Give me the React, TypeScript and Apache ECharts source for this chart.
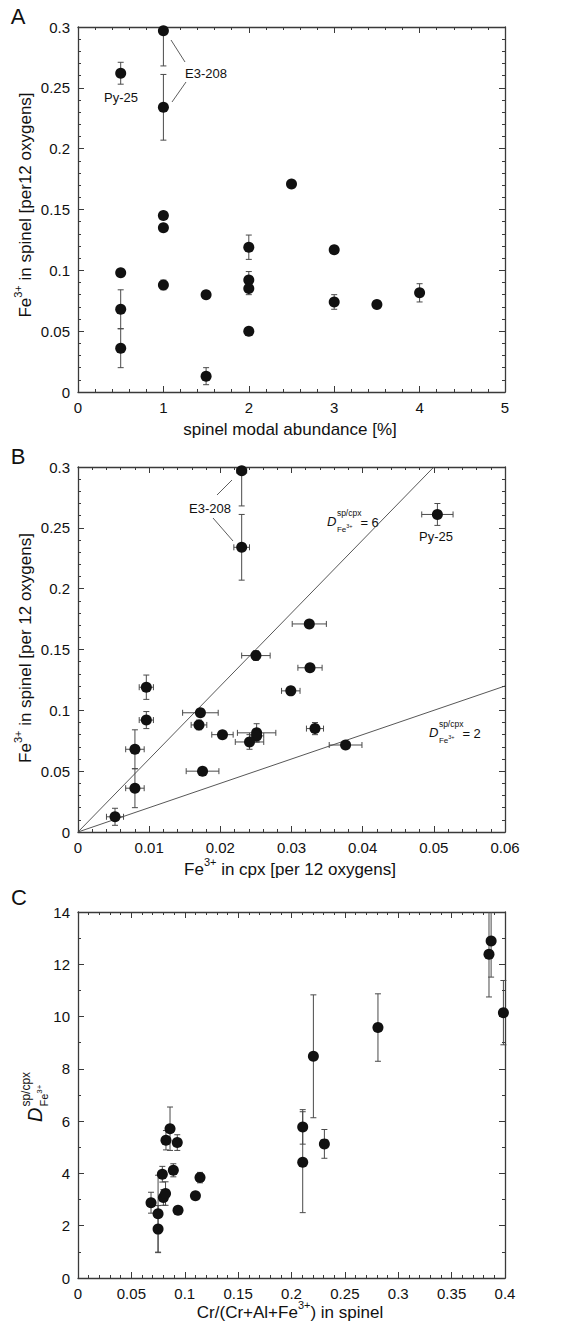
import React, { useEffect, useRef } from 'react';
import * as echarts from 'echarts';

const FONT = '"Liberation Sans", Arial, Helvetica, sans-serif';
const INK = '#111';
const FRAME = '#3a3a3a';
const ERR = '#4a4a4a';

// ---------- Panel A: Fe3+ in spinel vs spinel modal abundance ----------
const aModal = [0.5, 1, 1, 2.5, 1, 1, 1, 0.5, 0.5, 0.5, 1.5, 1.5, 2, 2, 2, 2, 3, 3, 3.5, 4];
const aFe = [0.262, 0.297, 0.234, 0.171, 0.145, 0.135, 0.088, 0.098, 0.068, 0.036, 0.080, 0.013, 0.119, 0.092, 0.085, 0.050, 0.117, 0.074, 0.072, 0.0815];
const aFeErr = [0.009, 0.029, 0.027, 0, 0.003, 0.002, 0.004, 0.002, 0.016, 0.016, 0.002, 0.007, 0.010, 0.007, 0.005, 0.001, 0.001, 0.006, 0.001, 0.0075];
const aXAxis = { min: 0, max: 5, interval: 1, minor: 5 };
const aYAxis = { min: 0, max: 0.3, interval: 0.05, minor: 5 };

// ---------- Panel B: Fe3+ in spinel vs Fe3+ in cpx ----------
const bCpx = [0.0505, 0.023, 0.023, 0.0325, 0.025, 0.0326, 0.0299, 0.0096, 0.0096, 0.0172, 0.017, 0.0203, 0.0251, 0.0251, 0.0241, 0.0333, 0.0376, 0.008, 0.008, 0.0175, 0.0052];
const bCpxErr = [0.0022, 0.0007, 0.0011, 0.0024, 0.002, 0.0017, 0.0013, 0.001, 0.001, 0.0025, 0.0011, 0.0015, 0.0027, 0.001, 0.002, 0.0012, 0.0023, 0.0013, 0.0013, 0.0023, 0.0012];
const bSp = [0.261, 0.297, 0.234, 0.171, 0.145, 0.135, 0.116, 0.119, 0.092, 0.098, 0.088, 0.080, 0.0815, 0.079, 0.074, 0.085, 0.0715, 0.068, 0.036, 0.050, 0.0125];
const bSpErr = [0.009, 0.029, 0.027, 0, 0.004, 0.002, 0.002, 0.010, 0.007, 0.002, 0.004, 0.002, 0.0075, 0.005, 0.006, 0.005, 0.001, 0.016, 0.016, 0.001, 0.007];
const dValues = [6, 2];
const dLineEndX = [0.05, 0.06];
const bXAxis = { min: 0, max: 0.06, interval: 0.01, minor: 5 };
const bYAxis = { min: 0, max: 0.3, interval: 0.05, minor: 5 };

// ---------- Panel C: D(sp/cpx) vs Cr# in spinel ----------
const cCr = [0.387, 0.385, 0.3985, 0.281, 0.2205, 0.2105, 0.2105, 0.2308, 0.0684, 0.075, 0.075, 0.079, 0.080, 0.082, 0.0824, 0.0862, 0.0893, 0.093, 0.0937, 0.110, 0.1143];
const cD = [12.89, 12.38, 10.15, 9.58, 8.48, 5.78, 4.43, 5.13, 2.88, 2.46, 1.87, 3.97, 3.08, 3.23, 5.27, 5.71, 4.12, 5.18, 2.59, 3.15, 3.84];
const cDErr = [1.38, 1.63, 1.23, 1.29, 2.35, 0.66, 1.93, 0.55, 0.4, 1.47, 0.9, 0.3, 0.3, 0.45, 0.37, 0.83, 0.25, 0.3, 0.1, 0.1, 0.2];
const cXAxis = { min: 0, max: 0.4, interval: 0.05, minor: 5 };
const cYAxis = { min: 0, max: 14, interval: 2, minor: 2 };

const GRIDS = [
  { left: 78, top: 27, width: 427, height: 365 },
  { left: 78, top: 467, width: 427, height: 365 },
  { left: 78, top: 912, width: 427, height: 366 },
];

let measureCtx: CanvasRenderingContext2D | null = null;
function tw(text: string, size: number, italic = false): number {
  if (!measureCtx) measureCtx = document.createElement('canvas').getContext('2d');
  if (!measureCtx) return text.length * size * 0.55;
  measureCtx.font = `${italic ? 'italic ' : ''}${size}px ${FONT}`;
  return measureCtx.measureText(text).width;
}

type Piece = { t: string; s: number; dy?: number; it?: boolean; noAdv?: boolean; dx?: number };
function textGroup(pieces: Piece[], cx: number, cy: number, rotation = 0, center = true) {
  let total = 0;
  pieces.forEach((p) => {
    if (!p.noAdv) total += tw(p.t, p.s, p.it) + (p.dx || 0);
  });
  let x = center ? -total / 2 : 0;
  const children = pieces.map((p) => {
    const el = {
      type: 'text',
      x: x + (p.dx || 0),
      y: p.dy || 0,
      style: {
        text: p.t,
        fontSize: p.s,
        fontFamily: FONT,
        fontStyle: p.it ? 'italic' : 'normal',
        fill: INK,
        align: 'left',
        verticalAlign: 'middle',
      },
    };
    if (!p.noAdv) x += tw(p.t, p.s, p.it) + (p.dx || 0);
    return el;
  });
  return { type: 'group', x: cx, y: cy, rotation, children };
}

function dLabel(x: number, y: number, val: number) {
  const dW = tw('D', 13, true);
  const fw = tw('Fe', 8);
  return {
    type: 'group',
    x,
    y,
    children: [
      { type: 'text', x: 0, y: 0, style: { text: 'D', fontSize: 13, fontStyle: 'italic', fontFamily: FONT, fill: INK, verticalAlign: 'middle' } },
      { type: 'text', x: dW + 0.5, y: -8, style: { text: 'sp/cpx', fontSize: 8.5, fontFamily: FONT, fill: INK, verticalAlign: 'middle' } },
      { type: 'text', x: dW + 0.5, y: 8, style: { text: 'Fe', fontSize: 8, fontFamily: FONT, fill: INK, verticalAlign: 'middle' } },
      { type: 'text', x: dW + 0.5 + fw, y: 5, style: { text: '3+', fontSize: 5.5, fontFamily: FONT, fill: INK, verticalAlign: 'middle' } },
      { type: 'text', x: dW + 24, y: 1, style: { text: '= ' + val, fontSize: 13, fontFamily: FONT, fill: INK, verticalAlign: 'middle' } },
    ],
  };
}

function leader(x1: number, y1: number, x2: number, y2: number) {
  return { type: 'line', shape: { x1, y1, x2, y2 }, style: { stroke: '#333', lineWidth: 0.8 } };
}

function fmt(v: number) {
  return String(+v.toFixed(4));
}

function errRender(params: any, api: any) {
  const x = api.value(0);
  const y = api.value(1);
  const ex = api.value(2);
  const ey = api.value(3);
  const cs = params.coordSys;
  const top = cs.y;
  const bottom = cs.y + cs.height;
  const left = cs.x;
  const right = cs.x + cs.width;
  const c = api.coord([x, y]);
  const style = { stroke: ERR, lineWidth: 1 };
  const cap = 3;
  const children: any[] = [];
  if (ey > 0) {
    const p1 = api.coord([x, y + ey]);
    const p2 = api.coord([x, y - ey]);
    const y1 = Math.max(p1[1], top);
    const y2 = Math.min(p2[1], bottom);
    children.push({ type: 'line', shape: { x1: c[0], y1, x2: c[0], y2 }, style });
    if (p1[1] >= top) children.push({ type: 'line', shape: { x1: c[0] - cap, y1: p1[1], x2: c[0] + cap, y2: p1[1] }, style });
    if (p2[1] <= bottom) children.push({ type: 'line', shape: { x1: c[0] - cap, y1: p2[1], x2: c[0] + cap, y2: p2[1] }, style });
  }
  if (ex > 0) {
    const p1 = api.coord([x - ex, y]);
    const p2 = api.coord([x + ex, y]);
    const x1 = Math.max(p1[0], left);
    const x2 = Math.min(p2[0], right);
    children.push({ type: 'line', shape: { x1, y1: c[1], x2, y2: c[1] }, style });
    if (p1[0] >= left) children.push({ type: 'line', shape: { x1: p1[0], y1: c[1] - cap, x2: p1[0], y2: c[1] + cap }, style });
    if (p2[0] <= right) children.push({ type: 'line', shape: { x1: p2[0], y1: c[1] - cap, x2: p2[0], y2: c[1] + cap }, style });
  }
  return { type: 'group', children };
}

function makeAxes(gi: number, ax: any, dim: 'x' | 'y') {
  const common = {
    gridIndex: gi,
    type: 'value',
    min: ax.min,
    max: ax.max,
    interval: ax.interval,
    splitLine: { show: false },
    axisLine: { show: true, onZero: false, lineStyle: { color: FRAME, width: 1.3 } },
    axisTick: { show: true, inside: true, length: 6, lineStyle: { color: FRAME, width: 1 } },
    minorTick: { show: true, splitNumber: ax.minor, length: 3, lineStyle: { color: FRAME, width: 1 } },
  };
  const main = {
    ...common,
    position: dim === 'x' ? 'bottom' : 'left',
    axisLabel: { show: true, fontSize: 15, color: INK, fontFamily: FONT, margin: 8, formatter: (v: number) => fmt(v) },
  };
  const mirror = {
    ...common,
    position: dim === 'x' ? 'top' : 'right',
    axisLabel: { show: false },
  };
  return [main, mirror];
}

export default function App() {
  const ref = useRef<HTMLDivElement>(null);
  useEffect(() => {
    if (!ref.current) return;
    const chart = echarts.init(ref.current, undefined, { renderer: 'svg' });

    const xAxis = [
      ...makeAxes(0, aXAxis, 'x'),
      ...makeAxes(1, bXAxis, 'x'),
      ...makeAxes(2, cXAxis, 'x'),
    ];
    const yAxis = [
      ...makeAxes(0, aYAxis, 'y'),
      ...makeAxes(1, bYAxis, 'y'),
      ...makeAxes(2, cYAxis, 'y'),
    ];

    const aData = aModal.map((x, i) => [x, aFe[i], 0, aFeErr[i]]);
    const bData = bCpx.map((x, i) => [x, bSp[i], bCpxErr[i], bSpErr[i]]);
    const cData = cCr.map((x, i) => [x, cD[i], 0, cDErr[i]]);

    const errSeries = (data: number[][], gi: number) => ({
      type: 'custom',
      xAxisIndex: gi * 2,
      yAxisIndex: gi * 2,
      data,
      encode: { x: 0, y: 1 },
      renderItem: errRender,
      z: 2,
      silent: true,
    });
    const dotSeries = (data: number[][], gi: number) => ({
      type: 'scatter',
      xAxisIndex: gi * 2,
      yAxisIndex: gi * 2,
      data: data.map((d) => [d[0], d[1]]),
      symbol: 'circle',
      symbolSize: 11,
      itemStyle: { color: INK, opacity: 1 },
      z: 3,
      silent: true,
    });

    const lineSeries = dValues.map((d, i) => ({
      type: 'line',
      xAxisIndex: 2,
      yAxisIndex: 2,
      data: [
        [0, 0],
        [dLineEndX[i], d * dLineEndX[i]],
      ],
      symbol: 'none',
      lineStyle: { color: '#444', width: 0.9 },
      z: 1,
      silent: true,
    }));

    const graphic: any[] = [
      // panel letters
      { type: 'text', x: 18, y: 16, style: { text: 'A', fontSize: 22, fontFamily: FONT, fill: INK, align: 'center', verticalAlign: 'middle' } },
      { type: 'text', x: 18, y: 456, style: { text: 'B', fontSize: 22, fontFamily: FONT, fill: INK, align: 'center', verticalAlign: 'middle' } },
      { type: 'text', x: 19, y: 897, style: { text: 'C', fontSize: 22, fontFamily: FONT, fill: INK, align: 'center', verticalAlign: 'middle' } },
      // axis titles
      textGroup([{ t: 'spinel modal abundance [%]', s: 17 }], 290, 429),
      textGroup([{ t: 'Fe', s: 17 }, { t: '3+', s: 11, dy: -7 }, { t: ' in spinel [per12 oxygens]', s: 17 }], 25, 205, Math.PI / 2),
      textGroup([{ t: 'Fe', s: 17 }, { t: '3+', s: 11, dy: -7 }, { t: ' in cpx [per 12 oxygens]', s: 17 }], 290, 869),
      textGroup([{ t: 'Fe', s: 17 }, { t: '3+', s: 11, dy: -7 }, { t: ' in spinel [per 12 oxygens]', s: 17 }], 25, 648, Math.PI / 2),
      textGroup([{ t: 'Cr/(Cr+Al+Fe', s: 17 }, { t: '3+', s: 11, dy: -7 }, { t: ') in spinel', s: 17 }], 290, 1312),
      textGroup(
        [
          { t: 'D', s: 20, it: true },
          { t: 'sp/cpx', s: 12, dy: -9, noAdv: true, dx: 1 },
          { t: 'Fe', s: 11, dy: 9, dx: 1 },
          { t: '3+', s: 8, dy: 4 },
        ],
        35,
        1122,
        Math.PI / 2,
        false
      ),
      // annotations panel A
      { type: 'text', x: 121, y: 97, style: { text: 'Py-25', fontSize: 13, fontFamily: FONT, fill: INK, align: 'center', verticalAlign: 'middle' } },
      { type: 'text', x: 206, y: 73, style: { text: 'E3-208', fontSize: 13, fontFamily: FONT, fill: INK, align: 'center', verticalAlign: 'middle' } },
      leader(171, 40, 185, 62),
      leader(172, 102, 186, 82),
      // annotations panel B
      { type: 'text', x: 436, y: 536, style: { text: 'Py-25', fontSize: 13, fontFamily: FONT, fill: INK, align: 'center', verticalAlign: 'middle' } },
      { type: 'text', x: 210, y: 508, style: { text: 'E3-208', fontSize: 13, fontFamily: FONT, fill: INK, align: 'center', verticalAlign: 'middle' } },
      leader(217, 495, 232, 480),
      leader(213, 518, 233, 541),
      dLabel(327, 521, dValues[0]),
      dLabel(429, 732, dValues[1]),
    ];

    chart.setOption({
      animation: false,
      backgroundColor: '#fff',
      grid: GRIDS.map((g) => ({ ...g, containLabel: false })),
      xAxis,
      yAxis,
      series: [
        ...lineSeries,
        errSeries(aData, 0),
        errSeries(bData, 1),
        errSeries(cData, 2),
        dotSeries(aData, 0),
        dotSeries(bData, 1),
        dotSeries(cData, 2),
      ],
      graphic,
    });
    return () => chart.dispose();
  }, []);
  return <div ref={ref} style={{ position: 'absolute', left: 0, top: 0, width: 571, height: 1332 }} />;
}
